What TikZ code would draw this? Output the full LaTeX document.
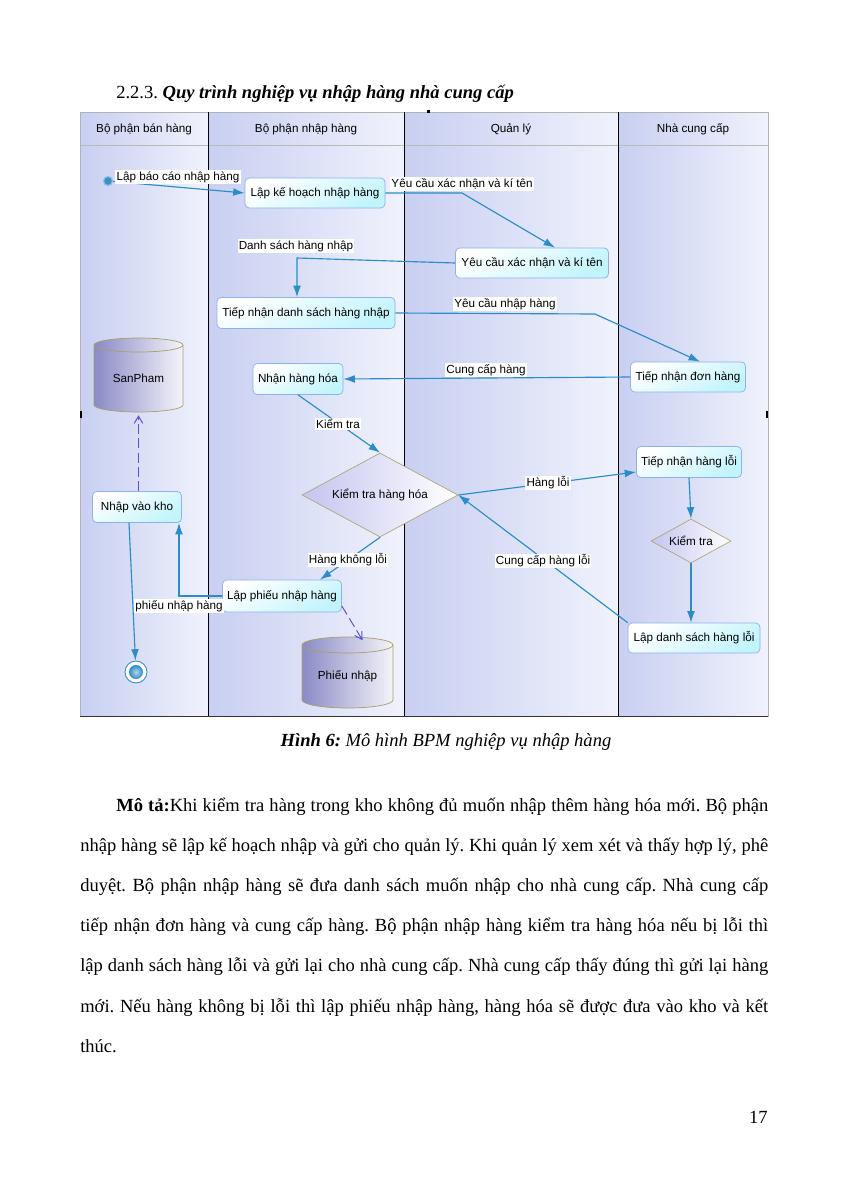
\documentclass[tikz,border=0pt]{standalone}
\usepackage{fontspec}
\setmainfont{Liberation Serif}
\newfontfamily\diagfont{Liberation Sans}
\usetikzlibrary{arrows.meta,shapes.geometric,calc}
\frenchspacing
\newcommand\pxu{0.7012pt}
\newcommand\dfs{\diagfont\fontsize{8.2pt}{10pt}\selectfont}
\newcommand\bfs{\fontsize{13pt}{15pt}\selectfont}
\definecolor{connC}{HTML}{2B8CC8}
\definecolor{laneL}{HTML}{C8CFF1}
\definecolor{laneR}{HTML}{F0F2FC}
\definecolor{boxB}{HTML}{8DB2E8}
\definecolor{boxC}{HTML}{C2F4FC}
\definecolor{diaB}{HTML}{B0A878}
\definecolor{diaC}{HTML}{C4C4F0}
\definecolor{cylL}{HTML}{8A8AC6}
\definecolor{cylR}{HTML}{F4F4FA}
\definecolor{cylB}{HTML}{A8A064}
\definecolor{depC}{HTML}{5A50E0}
\definecolor{startC}{HTML}{3F8FC0}
\definecolor{startB}{HTML}{8CC0E4}
\newcommand\cylinderdraw[5]{%
  \path[left color=cylL, right color=cylR, draw=cylB, line width=0.5pt]
    (#1,#3) -- (#1,#4) arc[start angle=180,end angle=360,x radius={(#2-#1)/2},y radius=#5]
    -- (#2,#3) arc[start angle=0,end angle=180,x radius={(#2-#1)/2},y radius=#5] -- cycle;
  \draw[cylB, line width=0.5pt] (#1,#3) arc[start angle=180,end angle=360,x radius={(#2-#1)/2},y radius=#5];
}
\begin{document}
\begin{tikzpicture}[x=0.7012pt,y=0.7012pt,
  box/.style={draw=boxB, line width=0.5pt, rounded corners=3pt, top color=white, bottom color=boxC, shading angle=30, font=\dfs, inner sep=1pt},
  dia/.style={diamond, draw=diaB, line width=0.5pt, left color=diaC, right color=white, font=\dfs, inner sep=0pt},
  cyltext/.style={font=\dfs, inner sep=0pt},
  lbl/.style={fill=white, inner sep=0.8pt, font=\dfs},
  head/.style={font=\dfs, inner sep=0pt},
  conn/.style={draw=connC, line width=0.8pt, -{Latex[length=8pt,width=5.5pt]}},
  dep/.style={draw=depC, line width=0.7pt, dash pattern=on 7pt off 3pt, -{Straight Barb[length=5pt,width=6pt]}},
  txt/.style={anchor=base west, inner sep=0pt, font=\bfs}
]
\useasboundingbox (0,0) rectangle (849,-1200);
\fill[white] (0,0) rectangle (849,-1200);

% heading
\node[txt] (head) at (116,-98) {2.2.3. \textbf{\textit{Quy trình nghiệp vụ nhập hàng nhà cung cấp}}};

% lanes
\shade[left color=laneL, right color=laneR] (80,-112) rectangle (208,-716);
\shade[left color=laneL, right color=laneR] (208,-112) rectangle (404,-716);
\shade[left color=laneL, right color=laneR] (404,-112) rectangle (618,-716);
\shade[left color=laneL, right color=laneR] (618,-112) rectangle (768,-716);
\draw[gray!55, line width=0.4pt] (80,-145) -- (768,-145);
\draw[gray!60, line width=0.5pt] (80,-112) rectangle (768,-716);
\draw[black!80, line width=0.6pt] (80,-716) -- (768,-716);
\foreach \xx in {208,404,618} \draw[black, line width=0.7pt] (\xx,-112) -- (\xx,-716);
\fill[black] (80,-411) rectangle (82,-418);
\fill[black] (766,-411) rectangle (768,-418);
\fill[black] (427,-110) rectangle (430,-113);

\node[head] (h1) at (144,-129) {Bộ phận bán hàng};
\node[head] (h2) at (306,-129) {Bộ phận nhập hàng};
\node[head] (h3) at (511,-129) {Quản lý};
\node[head] (h4) at (693,-129) {Nhà cung cấp};

% cylinders
\cylinderdraw{94}{183}{-345}{-405}{7}
\cylinderdraw{302}{393}{-645}{-700}{8}
\node[cyltext, minimum width=89*\pxu, minimum height=74*\pxu] (sp) at (138.5,-378) {SanPham};
\node[cyltext, minimum width=91*\pxu, minimum height=71*\pxu] (pn) at (347.5,-676) {Phiếu nhập};

% nodes
\node[circle, fill=startC, draw=startB, line width=0.8pt, minimum size=9*\pxu, inner sep=0pt] (start) at (108,-181) {};
\node[box, minimum width=140*\pxu, minimum height=30*\pxu] (lkh) at (315,-193) {Lập kế hoạch nhập hàng};
\node[box, minimum width=153*\pxu, minimum height=30*\pxu] (yc) at (532,-263) {Yêu cầu xác nhận và kí tên};
\node[box, minimum width=178*\pxu, minimum height=31*\pxu] (tnds) at (306,-313) {Tiếp nhận danh sách hàng nhập};
\node[box, minimum width=115*\pxu, minimum height=30*\pxu] (tndh) at (688,-377) {Tiếp nhận đơn hàng};
\node[box, minimum width=90*\pxu, minimum height=31*\pxu] (nhh) at (298,-379) {Nhận hàng hóa};
\node[box, minimum width=105*\pxu, minimum height=31*\pxu] (tnhl) at (689,-462) {Tiếp nhận hàng lỗi};
\node[box, minimum width=132*\pxu, minimum height=30*\pxu] (ldshl) at (694,-638) {Lập danh sách hàng lỗi};
\node[box, minimum width=119*\pxu, minimum height=32*\pxu] (lpn) at (282,-596) {Lập phiếu nhập hàng};
\node[box, minimum width=89*\pxu, minimum height=31*\pxu] (nvk) at (137,-507) {Nhập vào kho};
\node[dia, aspect=1.86, minimum width=156*\pxu, minimum height=84*\pxu] (kt) at (380,-495) {Kiểm tra hàng hóa};
\node[dia, aspect=1.8, minimum width=80*\pxu, minimum height=44*\pxu] (kt2) at (691,-541) {Kiểm tra};
\node[circle, draw=connC, fill=white, line width=0.6pt, minimum size=22*\pxu, inner sep=0pt] (endn) at (136,-672) {};
\shade[inner color=connC!35, outer color=connC] (endn.center) circle (7);

% connectors
\draw[conn] (start) -- (lkh.west);
\draw[conn] (lkh.east) -- (462,-193) -- ($(yc.north)+(23,0)$);
\draw[conn] (yc.west) -- (297,-258) -- ($(tnds.north)+(-9,0)$);
\draw[conn] (tnds.east) -- (595,-314) -- ($(tndh.north)+(12,0)$);
\draw[conn] (tndh.west) -- (nhh.east);
\draw[conn] (nhh.south) -- (kt.north);
\draw[conn] (kt.east) -- ($(tnhl.west)+(0,-10)$);
\draw[conn] (tnhl.south) -- (kt2.north);
\draw[conn] (kt2.south) -- (kt2.south |- ldshl.north);
\draw[conn] (ldshl.north west) -- (kt.east);
\draw[conn] (kt.south) -- ($(lpn.north)+(38,0)$);
\draw[conn] (lpn.west) -| ($(nvk.south)+(42,0)$);
\draw[conn] ($(nvk.south)+(-8,0)$) -- (endn);
\draw[dep] (sp.south |- nvk.north) -- (sp.south);
\draw[dep] ($(lpn.east)+(0,-10)$) -- ($(pn.north)+(15,0)$);

% labels
\node[lbl] (l1) at (178,-177) {Lập báo cáo nhập hàng};
\node[lbl] (l2) at (462,-184) {Yêu cầu xác nhận và kí tên};
\node[lbl] (l3) at (296,-246) {Danh sách hàng nhập};
\node[lbl] (l4) at (505,-304) {Yêu cầu nhập hàng};
\node[lbl] (l5) at (486,-370) {Cung cấp hàng};
\node[lbl] (l6) at (338,-424) {Kiểm tra};
\node[lbl] (l7) at (548,-483) {Hàng lỗi};
\node[lbl] (l8) at (543,-561) {Cung cấp hàng lỗi};
\node[lbl] (l9) at (348,-560) {Hàng không lỗi};
\node[lbl] (l10) at (179,-606) {phiếu nhập hàng};

% caption
\node[anchor=base, inner sep=0pt, font=\bfs] (cap) at (446,-746) {\textbf{\textit{Hình 6:}} \textit{Mô hình BPM nghiệp vụ nhập hàng}};

% paragraph
\node[txt] (p1) at (116,-811) {\makebox[457.2pt][s]{\textbf{Mô tả:}Khi kiểm tra hàng trong kho không đủ muốn nhập thêm hàng hóa mới. Bộ phận}};
\node[txt] (p2) at (80,-851.2) {\makebox[482.4pt][s]{nhập hàng sẽ lập kế hoạch nhập và gửi cho quản lý. Khi quản lý xem xét và thấy hợp lý, phê}};
\node[txt] (p3) at (80,-891.4) {\makebox[482.4pt][s]{duyệt. Bộ phận nhập hàng sẽ đưa danh sách muốn nhập cho nhà cung cấp. Nhà cung cấp}};
\node[txt] (p4) at (80,-931.6) {\makebox[482.4pt][s]{tiếp nhận đơn hàng và cung cấp hàng. Bộ phận nhập hàng kiểm tra hàng hóa nếu bị lỗi thì}};
\node[txt] (p5) at (80,-971.8) {\makebox[482.4pt][s]{lập danh sách hàng lỗi và gửi lại cho nhà cung cấp. Nhà cung cấp thấy đúng thì gửi lại hàng}};
\node[txt] (p6) at (80,-1012) {\makebox[482.4pt][s]{mới. Nếu hàng không bị lỗi thì lập phiếu nhập hàng, hàng hóa sẽ được đưa vào kho và kết}};
\node[txt] (p7) at (80,-1052.2) {thúc.};

\node[anchor=base east, inner sep=0pt, font=\bfs] (pg) at (768,-1123) {17};
\end{tikzpicture}
\end{document}
